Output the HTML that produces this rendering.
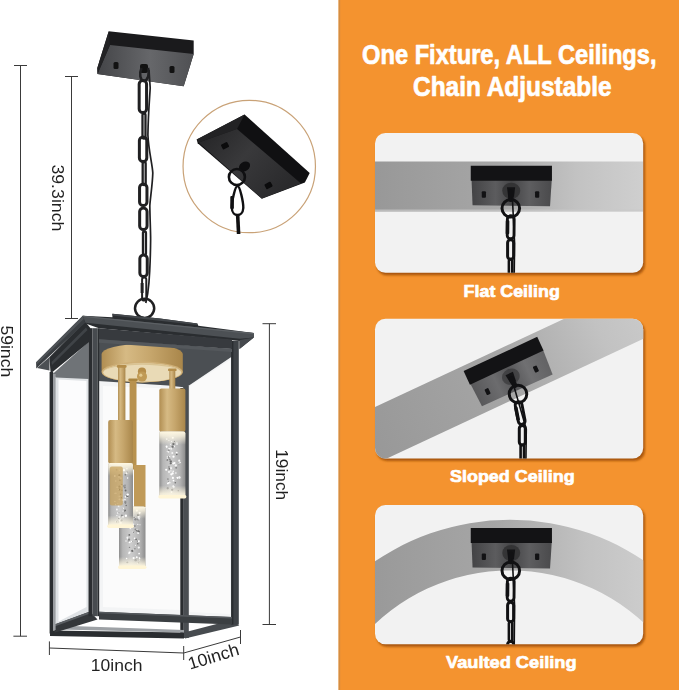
<!DOCTYPE html>
<html><head><meta charset="utf-8"><title>One Fixture, ALL Ceilings</title>
<style>
html,body{margin:0;padding:0;background:#fff;}
svg{display:block}
text{font-family:"Liberation Sans",sans-serif;}
.b{font-weight:bold;fill:#fff;stroke:#fff;stroke-width:0.7px;stroke-linejoin:round}
.d{fill:#1e1e1e;opacity:0.99}
</style></head><body>
<svg width="679" height="690" viewBox="0 0 679 690">
<defs>
<linearGradient id="band" x1="0" x2="1" y1="0" y2="0">
<stop offset="0" stop-color="#989898"/><stop offset="0.45" stop-color="#a6a6a6"/><stop offset="0.75" stop-color="#c2c2c2"/><stop offset="1" stop-color="#cfcfcf"/>
</linearGradient>
<linearGradient id="gold" x1="0" x2="1" y1="0" y2="0">
<stop offset="0" stop-color="#b18e52"/><stop offset="0.3" stop-color="#d6ba84"/><stop offset="0.6" stop-color="#c6a66c"/><stop offset="1" stop-color="#a9864a"/>
</linearGradient>
<linearGradient id="cry" x1="0" x2="1" y1="0" y2="0">
<stop offset="0" stop-color="#8e8e8e"/><stop offset="0.14" stop-color="#b6b6b6"/><stop offset="0.45" stop-color="#cdcdcd"/><stop offset="0.8" stop-color="#b2b2b2"/><stop offset="1" stop-color="#8c8c8c"/>
</linearGradient>
<linearGradient id="glow" x1="0" x2="0" y1="0" y2="1">
<stop offset="0" stop-color="#fff8e2" stop-opacity="1"/><stop offset="0.07" stop-color="#fff8e2" stop-opacity="0.75"/><stop offset="0.2" stop-color="#fff8e2" stop-opacity="0"/>
<stop offset="0.82" stop-color="#fff8e2" stop-opacity="0"/><stop offset="0.94" stop-color="#fff8e2" stop-opacity="0.8"/><stop offset="1" stop-color="#fff8e2" stop-opacity="1"/>
</linearGradient>
<linearGradient id="insf" x1="0" x2="1" y1="0" y2="0.6">
<stop offset="0" stop-color="#232325"/><stop offset="0.5" stop-color="#39393b"/><stop offset="1" stop-color="#2a2a2c"/>
</linearGradient>
<linearGradient id="canf" x1="0" x2="1" y1="0" y2="0">
<stop offset="0" stop-color="#444548"/><stop offset="0.55" stop-color="#66676a"/><stop offset="1" stop-color="#4f5053"/>
</linearGradient>
<linearGradient id="plf" x1="0" x2="1" y1="0" y2="0">
<stop offset="0" stop-color="#434345"/><stop offset="0.3" stop-color="#5c5c5e"/><stop offset="0.5" stop-color="#454547"/><stop offset="0.72" stop-color="#5e5e60"/><stop offset="1" stop-color="#4a4a4c"/>
</linearGradient>
<linearGradient id="plf2" x1="0" x2="1" y1="0" y2="0">
<stop offset="0" stop-color="#58585a"/><stop offset="0.3" stop-color="#6c6c6e"/><stop offset="0.5" stop-color="#565658"/><stop offset="0.72" stop-color="#707072"/><stop offset="1" stop-color="#626264"/>
</linearGradient>
<filter id="sh" x="-5%" y="-5%" width="110%" height="110%"><feGaussianBlur stdDeviation="0.8"/></filter>
<clipPath id="c1"><rect x="375" y="133" width="268.2" height="139.8" rx="10.5"/></clipPath>
<clipPath id="c2"><rect x="375" y="318.75" width="268.2" height="139.8" rx="10.5"/></clipPath>
<clipPath id="c3"><rect x="375" y="505" width="268.2" height="139.3" rx="10.5"/></clipPath>
</defs>
<rect width="679" height="690" fill="#fff"/>

<rect x="338.6" y="0" width="341" height="690" fill="#f4932f"/>
<rect x="338.6" y="0" width="1.6" height="690" fill="#d48d42"/>
<text class="b" x="509.3" y="64" font-size="27.5" text-anchor="middle" textLength="294.5" lengthAdjust="spacingAndGlyphs">One Fixture, ALL Ceilings,</text>
<text class="b" x="512.3" y="96" font-size="27.5" text-anchor="middle" textLength="198.5" lengthAdjust="spacingAndGlyphs">Chain Adjustable</text>
<rect x="376.6" y="135.2" width="268.4" height="140.1" rx="10.5" fill="#a9570a" filter="url(#sh)"/>
<rect x="375" y="133" width="268.2" height="139.8" rx="10.5" fill="#f2f2f2"/>
<g clip-path="url(#c1)"><rect x="375" y="161.5" width="268" height="50" fill="url(#band)"/><rect x="375" y="209.5" width="268" height="2" fill="#c9c9c9" opacity="0.7"/><g transform="translate(470.75 165.75) rotate(0)"><polygon points="0.8,14 81,14 79.3,40.6 1.8,39.6" fill="url(#plf)"/><ellipse cx="40.5" cy="25" rx="9" ry="8" fill="#2e2e30" opacity="0.8"/><polygon points="0,0 81.2,0 81.2,15 0,15" fill="#131315"/><rect x="11" y="25.5" width="4.2" height="6.4" rx="1" fill="#121214"/><rect x="64.3" y="25.5" width="4.2" height="6.4" rx="1" fill="#121214"/><path d="M36.2,21.5 L44.4,21.5 L43.3,31 L37.4,31 Z" fill="#131315"/></g><path d="M510.8,192 L510.8,199.2" stroke="#111113" stroke-width="5.4" stroke-linecap="round" fill="none"/><circle cx="510.8" cy="208.3" r="8.8" fill="none" stroke="#111113" stroke-width="3"/><path d="M512.3,196 L514.6,243.3 L514.2,276" stroke="#111113" stroke-width="1.6" fill="none"/><rect x="507.30" y="215.80" width="6.80" height="23.00" rx="3.40" fill="none" stroke="#111113" stroke-width="2.9" transform="rotate(0.520856374501929 510.70 227.30)"/><rect x="505.70000000000005" y="220.3" width="3.6" height="14" rx="1" fill="#111113" transform="rotate(0.5 510.70000000000005 227.3)"/><rect x="507.60" y="239.75" width="6.00" height="19.50" rx="3.00" fill="none" stroke="#111113" stroke-width="3.0" transform="rotate(0 510.60 249.50)"/><rect x="508.90" y="259.10" width="3.40" height="20.00" rx="1.70" fill="none" stroke="#111113" stroke-width="2.6" transform="rotate(0 510.60 269.10)"/></g>
<text class="b" x="511.7" y="296.5" font-size="17.2" text-anchor="middle" textLength="96.2" lengthAdjust="spacingAndGlyphs">Flat Ceiling</text>
<rect x="376.6" y="320.95" width="268.4" height="140.1" rx="10.5" fill="#a9570a" filter="url(#sh)"/>
<rect x="375" y="318.75" width="268.2" height="139.8" rx="10.5" fill="#f2f2f2"/>
<g clip-path="url(#c2)"><g transform="translate(375 407) rotate(-25)"><rect x="-20" y="0" width="340" height="51.7" fill="url(#band)"/></g><g transform="translate(463.6 371.1) rotate(-25)"><polygon points="0.8,14 81,14 79.3,40.6 1.8,39.6" fill="url(#plf2)"/><ellipse cx="40.5" cy="25" rx="9" ry="8" fill="#2e2e30" opacity="0.55"/><polygon points="0,0 81.2,0 81.2,15 0,15" fill="#131315"/><rect x="11" y="25.5" width="4.2" height="6.4" rx="1" fill="#121214"/><rect x="64.3" y="25.5" width="4.2" height="6.4" rx="1" fill="#121214"/><path d="M36.2,21.5 L44.4,21.5 L43.3,31 L37.4,31 Z" fill="#131315"/></g><path d="M511.4,378.8 L514.7,385.4" stroke="#111113" stroke-width="5.4" stroke-linecap="round" fill="none"/><circle cx="518" cy="394" r="8.8" fill="none" stroke="#111113" stroke-width="3"/><path d="M512.9,382.8 L526.3,429 L525.9,462" stroke="#111113" stroke-width="1.6" fill="none"/><rect x="516.75" y="401.50" width="6.80" height="23.00" rx="3.40" fill="none" stroke="#111113" stroke-width="2.9" transform="rotate(-11.059296367066288 520.15 413.00)"/><rect x="515.15" y="406.0" width="3.6" height="14" rx="1" fill="#111113" transform="rotate(-11.1 520.15 413.0)"/><rect x="519.30" y="425.45" width="6.00" height="19.50" rx="3.00" fill="none" stroke="#111113" stroke-width="3.0" transform="rotate(0 522.30 435.20)"/><rect x="520.60" y="444.80" width="3.40" height="20.00" rx="1.70" fill="none" stroke="#111113" stroke-width="2.6" transform="rotate(0 522.30 454.80)"/></g>
<text class="b" x="512.3" y="482" font-size="17.2" text-anchor="middle" textLength="124.6" lengthAdjust="spacingAndGlyphs">Sloped Ceiling</text>
<rect x="376.6" y="507.2" width="268.4" height="139.6" rx="10.5" fill="#a9570a" filter="url(#sh)"/>
<rect x="375" y="505" width="268.2" height="139.3" rx="10.5" fill="#f2f2f2"/>
<g clip-path="url(#c3)"><path d="M360,572.45 A240,240 0 0 1 660,572.45 L660,639.7 A197,197 0 0 0 360,639.7 Z" fill="url(#band)"/><g transform="translate(470.75 528) rotate(0)"><polygon points="0.8,14 81,14 79.3,40.6 1.8,39.6" fill="url(#plf)"/><ellipse cx="40.5" cy="25" rx="9" ry="8" fill="#2e2e30" opacity="0.8"/><polygon points="0,0 81.2,0 81.2,15 0,15" fill="#131315"/><rect x="11" y="25.5" width="4.2" height="6.4" rx="1" fill="#121214"/><rect x="64.3" y="25.5" width="4.2" height="6.4" rx="1" fill="#121214"/><path d="M36.2,21.5 L44.4,21.5 L43.3,31 L37.4,31 Z" fill="#131315"/></g><path d="M510.8,554.5 L510.8,561.6" stroke="#111113" stroke-width="5.4" stroke-linecap="round" fill="none"/><circle cx="510.8" cy="570.7" r="8.8" fill="none" stroke="#111113" stroke-width="3"/><path d="M512.3,558.5 L514.6,605.7 L514.2,648" stroke="#111113" stroke-width="1.6" fill="none"/><rect x="507.30" y="578.20" width="6.80" height="23.00" rx="3.40" fill="none" stroke="#111113" stroke-width="2.9" transform="rotate(0.520856374501929 510.70 589.70)"/><rect x="505.70000000000005" y="582.7" width="3.6" height="14" rx="1" fill="#111113" transform="rotate(0.5 510.70000000000005 589.7)"/><rect x="507.60" y="602.15" width="6.00" height="19.50" rx="3.00" fill="none" stroke="#111113" stroke-width="3.0" transform="rotate(0 510.60 611.90)"/><rect x="508.90" y="621.50" width="3.40" height="20.00" rx="1.70" fill="none" stroke="#111113" stroke-width="2.6" transform="rotate(0 510.60 631.50)"/><rect x="507.60" y="641.35" width="6.00" height="19.50" rx="3.00" fill="none" stroke="#111113" stroke-width="3.0" transform="rotate(0 510.60 651.10)"/></g>
<text class="b" x="511.3" y="667.9" font-size="17.2" text-anchor="middle" textLength="130.6" lengthAdjust="spacingAndGlyphs">Vaulted Ceiling</text>
<path d="M14,65.5 H27 M20.5,65.5 V636.2 M13.4,636.2 H27" stroke="#3a3a3a" stroke-width="1" fill="none"/>
<path d="M65,76.5 H78 M71.5,76.5 V318.5 M65,318.5 H78" stroke="#3a3a3a" stroke-width="1" fill="none"/>
<path d="M262.5,323.7 H276 M269.4,323.7 V624.5 M262.5,624.5 H276" stroke="#3a3a3a" stroke-width="1" fill="none"/>
<path d="M49.4,641.4 V655 M49.4,648 L183.7,653 M183.7,646 V660" stroke="#3a3a3a" stroke-width="1" fill="none"/>
<path d="M183.7,653 L240.5,637 M240.5,630 V644" stroke="#3a3a3a" stroke-width="1" fill="none"/>
<text class="d" font-size="17.4" transform="translate(51.7 164.4) rotate(90)" textLength="67" lengthAdjust="spacingAndGlyphs">39.3inch</text>
<text class="d" font-size="17.4" transform="translate(1.3 325.4) rotate(90)" textLength="51.8" lengthAdjust="spacingAndGlyphs">59inch</text>
<text class="d" font-size="17.4" transform="translate(275.9 449.2) rotate(90)" textLength="51" lengthAdjust="spacingAndGlyphs">19inch</text>
<text class="d" font-size="17.4" x="90.8" y="671" textLength="51.6" lengthAdjust="spacingAndGlyphs">10inch</text>
<text class="d" font-size="17.4" transform="translate(190 669.8) rotate(-17)" textLength="52.6" lengthAdjust="spacingAndGlyphs">10inch</text>
<circle cx="249.25" cy="166.5" r="66.2" fill="#fff" stroke="#c9a277" stroke-width="1.2"/>
<polygon points="196.7,139.5 244.6,114.6 309.7,173 304.9,182.5 261.8,198.8 197.7,143.3" fill="#101012"/>
<polygon points="196.7,139.5 244.6,114.6 237,129 198.6,142.4" fill="#222224"/>
<polygon points="198.6,142.4 237,129 301,183.5 261.8,198.4" fill="url(#insf)"/>
<rect x="221.5" y="143" width="7" height="5.5" rx="1" fill="#0b0b0c" transform="rotate(-28 225 145.7)"/>
<rect x="265" y="182.7" width="7" height="5.5" rx="1" fill="#0b0b0c" transform="rotate(-28 268.5 185.4)"/>
<ellipse cx="244.5" cy="166.5" rx="6" ry="4.6" fill="#0e0e10" transform="rotate(-35 244.5 166.5)"/>
<circle cx="236.9" cy="177" r="8" fill="none" stroke="#101012" stroke-width="2.6"/>
<path d="M237.5,186 C240,186 243.5,203 243.3,208 C243,213 240,215 237.5,215 C235,215 232,213 231.8,208 C231.5,203 235,186 237.5,186 Z" fill="none" stroke="#101012" stroke-width="2.4"/>
<rect x="230.3" y="196" width="3.6" height="13" rx="1" fill="#101012"/>
<path d="M237.6,214 L238.6,234" stroke="#101012" stroke-width="3.6" fill="none"/>
<polygon points="108.7,31.2 193.7,40.5 193.7,54 183.7,86.2 97.5,74 97.3,68" fill="#1a1a1c"/>
<polygon points="110,45 193.7,54 183.7,86.2 97.5,74" fill="url(#canf)"/>
<polygon points="108.7,31.2 110,45 97.5,74 97.3,68" fill="#232325"/>
<rect x="113.5" y="62" width="5" height="7" rx="1.5" fill="#121212"/>
<rect x="169.5" y="66" width="5" height="7" rx="1.5" fill="#121212"/>
<rect x="140" y="64" width="8" height="9" rx="2" fill="#121212"/>
<path d="M149,70 L150.2,88 C149.5,100 148.3,112 147.9,135 C148.5,150 152.5,165 152.8,173 C152.5,185 150,200 149.8,206 C150,220 150.8,235 150.6,241 C150.5,255 150,265 149.7,271 C149.3,280 148.5,288 147.7,293.6 L145.8,303" stroke="#202022" stroke-width="1.7" fill="none"/>
<path d="M141.5,68 C139,74 140,80 144,81 C148,80 150,74 148,68" stroke="#202022" stroke-width="2.6" fill="none"/>
<rect x="139.17" y="80.40" width="7.40" height="32.20" rx="3.70" fill="none" stroke="#202022" stroke-width="3.0" transform="rotate(0 142.87 96.50)"/>
<rect x="142.49" y="113.50" width="3.00" height="25.00" rx="1.50" fill="none" stroke="#202022" stroke-width="2.3" transform="rotate(0 143.99 126.00)"/>
<rect x="139.38" y="136.90" width="7.40" height="24.70" rx="3.70" fill="none" stroke="#202022" stroke-width="3.0" transform="rotate(0 143.08 149.25)"/>
<rect x="142.68" y="162.00" width="3.00" height="23.00" rx="1.50" fill="none" stroke="#202022" stroke-width="2.3" transform="rotate(0 144.18 173.50)"/>
<rect x="139.56" y="183.90" width="7.40" height="21.70" rx="3.70" fill="none" stroke="#202022" stroke-width="3.0" transform="rotate(0 143.26 194.75)"/>
<rect x="139.66" y="207.90" width="7.40" height="21.70" rx="3.70" fill="none" stroke="#202022" stroke-width="3.0" transform="rotate(0 143.36 218.75)"/>
<rect x="142.96" y="231.50" width="3.00" height="23.50" rx="1.50" fill="none" stroke="#202022" stroke-width="2.3" transform="rotate(0 144.46 243.25)"/>
<rect x="139.85" y="254.90" width="7.40" height="21.70" rx="3.70" fill="none" stroke="#202022" stroke-width="3.0" transform="rotate(0 143.55 265.75)"/>
<rect x="142.10" y="277.50" width="4.20" height="23.00" rx="2.10" fill="none" stroke="#202022" stroke-width="2.0" transform="rotate(0 144.20 289.00)"/>
<rect x="140.6" y="283" width="3" height="10" fill="#202022"/>
<circle cx="144.6" cy="308.3" r="9.6" fill="none" stroke="#202022" stroke-width="2.5"/>
<polygon points="52.7,374 88.5,342 88.5,613 52.7,630" fill="#dfe2e5"/>
<polygon points="52.7,374 88.5,342 88.5,379 56,377.5" fill="#6f7377"/>
<polygon points="58.5,379.5 86.5,381 86.5,607 58.5,621.5" fill="#fcfcfd"/>
<polygon points="98,339 232,349 232,619 98,613" fill="#f3f4f5"/>
<polygon points="103,386 181,389 181,610 103,607" fill="#fbfbfb"/>
<polygon points="190,386 230,360 230,614 190,612" fill="#fafafa"/>
<polygon points="98,338 232,349 232,356.5 186,387.5 168,385.5 98,381" fill="#4b4f53"/>
<rect x="183.2" y="386" width="5.6" height="252" fill="#4a4e52"/>
<rect x="180.3" y="388" width="3" height="250" fill="#2a2d30"/>
<polygon points="50,630.5 184,632.5 184,638.5 50,636" fill="#2a2d30"/>
<polygon points="72,626 184,630 184,632.5 60,629.5" fill="#9da1a5"/>
<polygon points="184,632.5 232,620 239.3,625.5 185,638.5" fill="#474b4f"/>
<polygon points="54.5,624.6 90,611.5 97.5,619.4 54.5,632.8" fill="#34373a"/>
<polygon points="54.5,624.6 90,611.5 91.5,613 54.5,626.6" fill="#5a5e62"/>
<path d="M101.6,354 A40.6,10 0 0 1 182.8,354 L182.8,372 A40.6,10.4 0 0 1 101.6,372 Z" fill="url(#gold)"/>
<ellipse cx="142.2" cy="372" rx="40.6" ry="10.4" fill="#cfb078"/>
<ellipse cx="142.2" cy="372.4" rx="39" ry="9.2" fill="#e9dab6"/>
<path d="M103.2,372.4 A39,9.2 0 0 1 181.2,372.4 A39,7.6 0 0 0 103.2,372.4 Z" fill="#d9c393"/>
<rect x="129.6" y="379.5" width="6.9" height="90" fill="#b8924f"/>
<rect x="128.3" y="378.5" width="9.5" height="2.5" rx="1" fill="#a9843f"/>
<rect x="118" y="366.5" width="7.4" height="56" fill="url(#gold)"/>
<rect x="116.8" y="365" width="9.8" height="2.8" rx="1.2" fill="#b48d4a"/>
<rect x="169.3" y="370" width="6" height="20" fill="url(#gold)"/>
<rect x="168" y="368.5" width="8.6" height="2.6" rx="1.2" fill="#b48d4a"/>
<circle cx="142" cy="371.6" r="4.1" fill="#b48c48"/><circle cx="142" cy="376.6" r="5" fill="#c09a55"/><circle cx="140.8" cy="375.2" r="1.6" fill="#e2c98e"/>
<rect x="134" y="465" width="11.5" height="42" fill="#c09a58"/>
<rect x="119" y="506.5" width="26.5" height="61.5" rx="2" fill="url(#cry)"/><circle cx="129.1" cy="539.6" r="1.14" fill="#8a8a8a"/><circle cx="132.5" cy="541.6" r="0.51" fill="#6f6f6f"/><circle cx="137.8" cy="524.4" r="0.63" fill="#f4f4f4"/><circle cx="136.1" cy="539.4" r="0.83" fill="#6f6f6f"/><circle cx="134.9" cy="518.6" r="1.11" fill="#f4f4f4"/><circle cx="133.3" cy="550.2" r="0.61" fill="#ffffff"/><circle cx="139.6" cy="512.8" r="1.08" fill="#ffffff"/><circle cx="129.6" cy="542.3" r="1.00" fill="#ffffff"/><circle cx="139.1" cy="531.6" r="0.81" fill="#6f6f6f"/><circle cx="139.3" cy="557.5" r="0.53" fill="#ffffff"/><circle cx="132.8" cy="524.3" r="1.05" fill="#ffffff"/><circle cx="138.1" cy="533.0" r="0.90" fill="#ffffff"/><circle cx="133.4" cy="532.3" r="1.13" fill="#f4f4f4"/><circle cx="135.6" cy="560.2" r="1.19" fill="#8a8a8a"/><circle cx="135.4" cy="519.2" r="1.18" fill="#8a8a8a"/><circle cx="138.8" cy="540.9" r="0.94" fill="#f4f4f4"/><circle cx="140.0" cy="524.8" r="0.54" fill="#ffffff"/><circle cx="138.1" cy="563.5" r="0.74" fill="#ffffff"/><circle cx="126.6" cy="558.5" r="0.71" fill="#ffffff"/><circle cx="136.8" cy="557.2" r="0.92" fill="#ffffff"/><circle cx="136.7" cy="530.7" r="0.73" fill="#6f6f6f"/><circle cx="138.5" cy="563.0" r="0.67" fill="#6f6f6f"/><circle cx="126.1" cy="510.9" r="0.92" fill="#ffffff"/><circle cx="126.1" cy="521.1" r="0.70" fill="#ffffff"/><circle cx="129.5" cy="547.4" r="0.72" fill="#8a8a8a"/><circle cx="139.6" cy="558.5" r="0.76" fill="#ffffff"/><circle cx="138.3" cy="531.2" r="0.98" fill="#6f6f6f"/><circle cx="127.1" cy="562.5" r="0.69" fill="#6f6f6f"/><circle cx="134.9" cy="548.8" r="0.81" fill="#8a8a8a"/><circle cx="129.4" cy="526.7" r="0.51" fill="#8a8a8a"/><circle cx="131.7" cy="541.5" r="0.76" fill="#ffffff"/><circle cx="134.2" cy="517.6" r="0.83" fill="#8a8a8a"/><circle cx="135.5" cy="529.4" r="1.02" fill="#8a8a8a"/><circle cx="125.9" cy="513.7" r="1.17" fill="#ffffff"/><circle cx="129.3" cy="534.9" r="0.92" fill="#6f6f6f"/><circle cx="128.2" cy="520.4" r="1.09" fill="#8a8a8a"/><circle cx="129.5" cy="552.6" r="1.04" fill="#ffffff"/><circle cx="126.0" cy="541.0" r="0.72" fill="#f4f4f4"/><circle cx="128.9" cy="553.5" r="0.73" fill="#f4f4f4"/><circle cx="135.5" cy="545.3" r="0.57" fill="#ffffff"/><circle cx="130.3" cy="528.4" r="0.81" fill="#f4f4f4"/><circle cx="138.1" cy="519.6" r="1.02" fill="#8a8a8a"/><circle cx="128.8" cy="540.9" r="0.66" fill="#8a8a8a"/><circle cx="127.4" cy="538.8" r="0.72" fill="#f4f4f4"/><circle cx="137.8" cy="541.3" r="0.74" fill="#8a8a8a"/><circle cx="137.7" cy="515.1" r="0.74" fill="#6f6f6f"/><circle cx="127.5" cy="526.1" r="0.83" fill="#8a8a8a"/><circle cx="134.9" cy="526.0" r="0.79" fill="#6f6f6f"/><circle cx="139.0" cy="518.8" r="0.83" fill="#ffffff"/><circle cx="137.8" cy="543.8" r="0.80" fill="#6f6f6f"/><circle cx="139.5" cy="560.1" r="0.52" fill="#f4f4f4"/><circle cx="132.3" cy="550.8" r="1.17" fill="#6f6f6f"/><circle cx="133.6" cy="558.1" r="1.10" fill="#ffffff"/><circle cx="139.8" cy="516.9" r="0.53" fill="#f4f4f4"/><circle cx="138.8" cy="547.6" r="1.13" fill="#f4f4f4"/><circle cx="138.7" cy="541.4" r="0.84" fill="#ffffff"/><circle cx="127.4" cy="537.4" r="0.96" fill="#f4f4f4"/><circle cx="133.3" cy="532.6" r="0.58" fill="#6f6f6f"/><circle cx="127.5" cy="562.5" r="0.83" fill="#6f6f6f"/><circle cx="137.0" cy="529.3" r="0.59" fill="#f4f4f4"/><circle cx="138.6" cy="516.9" r="1.05" fill="#f4f4f4"/><circle cx="139.1" cy="553.6" r="0.84" fill="#ffffff"/><circle cx="133.9" cy="531.9" r="0.67" fill="#8a8a8a"/><circle cx="134.6" cy="538.3" r="0.83" fill="#ffffff"/><circle cx="136.9" cy="510.6" r="1.04" fill="#ffffff"/><circle cx="126.3" cy="513.2" r="1.18" fill="#ffffff"/><circle cx="138.1" cy="515.1" r="0.84" fill="#6f6f6f"/><rect x="119" y="506.5" width="26.5" height="61.5" rx="2" fill="url(#glow)"/><rect x="118" y="565.5" width="28.5" height="3.5" rx="1.7" fill="#fff5d6"/>
<rect x="108.2" y="420" width="24.8" height="43.5" rx="2" fill="url(#gold)"/>
<rect x="108.2" y="463" width="24.8" height="64" rx="2" fill="url(#cry)"/><circle cx="122.9" cy="508.5" r="0.52" fill="#6f6f6f"/><circle cx="120.8" cy="519.8" r="1.13" fill="#ffffff"/><circle cx="115.9" cy="493.3" r="0.77" fill="#f4f4f4"/><circle cx="115.8" cy="481.0" r="0.79" fill="#f4f4f4"/><circle cx="116.9" cy="515.6" r="0.61" fill="#ffffff"/><circle cx="125.3" cy="474.8" r="0.81" fill="#6f6f6f"/><circle cx="116.2" cy="521.5" r="0.65" fill="#ffffff"/><circle cx="117.3" cy="522.0" r="0.70" fill="#f4f4f4"/><circle cx="127.5" cy="497.2" r="0.63" fill="#f4f4f4"/><circle cx="127.6" cy="478.0" r="0.71" fill="#ffffff"/><circle cx="119.3" cy="476.3" r="0.68" fill="#f4f4f4"/><circle cx="118.9" cy="512.8" r="0.50" fill="#6f6f6f"/><circle cx="123.6" cy="485.9" r="0.75" fill="#8a8a8a"/><circle cx="118.6" cy="506.0" r="0.84" fill="#f4f4f4"/><circle cx="124.0" cy="470.2" r="1.16" fill="#ffffff"/><circle cx="119.3" cy="489.6" r="1.05" fill="#6f6f6f"/><circle cx="119.4" cy="499.4" r="0.82" fill="#ffffff"/><circle cx="124.1" cy="501.9" r="0.58" fill="#f4f4f4"/><circle cx="117.8" cy="512.9" r="0.74" fill="#ffffff"/><circle cx="119.2" cy="496.4" r="0.58" fill="#ffffff"/><circle cx="124.6" cy="511.6" r="0.53" fill="#8a8a8a"/><circle cx="127.3" cy="472.1" r="0.86" fill="#8a8a8a"/><circle cx="119.3" cy="475.3" r="1.15" fill="#8a8a8a"/><circle cx="121.8" cy="484.5" r="0.71" fill="#8a8a8a"/><circle cx="125.3" cy="502.1" r="1.20" fill="#8a8a8a"/><circle cx="116.6" cy="469.7" r="0.87" fill="#6f6f6f"/><circle cx="119.9" cy="480.3" r="0.74" fill="#6f6f6f"/><circle cx="117.8" cy="503.5" r="0.54" fill="#f4f4f4"/><circle cx="126.9" cy="468.8" r="0.73" fill="#ffffff"/><circle cx="117.2" cy="522.0" r="1.16" fill="#6f6f6f"/><circle cx="123.0" cy="511.1" r="0.62" fill="#ffffff"/><circle cx="119.5" cy="470.3" r="0.71" fill="#ffffff"/><circle cx="120.6" cy="523.0" r="1.18" fill="#f4f4f4"/><circle cx="120.6" cy="494.3" r="0.84" fill="#8a8a8a"/><circle cx="118.4" cy="489.6" r="0.58" fill="#f4f4f4"/><circle cx="125.6" cy="496.8" r="0.94" fill="#f4f4f4"/><circle cx="121.2" cy="486.0" r="0.84" fill="#ffffff"/><circle cx="121.4" cy="497.7" r="0.75" fill="#6f6f6f"/><circle cx="125.1" cy="510.4" r="0.96" fill="#6f6f6f"/><circle cx="124.8" cy="487.4" r="1.08" fill="#8a8a8a"/><circle cx="118.0" cy="521.9" r="1.17" fill="#8a8a8a"/><circle cx="119.0" cy="477.0" r="0.83" fill="#ffffff"/><circle cx="125.0" cy="485.3" r="0.82" fill="#8a8a8a"/><circle cx="125.5" cy="503.3" r="0.74" fill="#8a8a8a"/><circle cx="123.2" cy="508.3" r="0.75" fill="#ffffff"/><circle cx="125.9" cy="515.7" r="1.18" fill="#ffffff"/><circle cx="127.4" cy="496.0" r="1.19" fill="#6f6f6f"/><circle cx="117.1" cy="487.3" r="0.70" fill="#ffffff"/><circle cx="115.5" cy="504.6" r="0.62" fill="#ffffff"/><circle cx="125.0" cy="499.5" r="0.71" fill="#ffffff"/><circle cx="121.9" cy="515.6" r="1.00" fill="#8a8a8a"/><circle cx="114.8" cy="476.0" r="0.94" fill="#ffffff"/><circle cx="116.9" cy="509.5" r="0.94" fill="#f4f4f4"/><circle cx="115.0" cy="493.4" r="0.62" fill="#f4f4f4"/><circle cx="126.6" cy="473.2" r="0.84" fill="#f4f4f4"/><circle cx="121.9" cy="490.3" r="0.77" fill="#8a8a8a"/><circle cx="122.7" cy="500.0" r="1.00" fill="#f4f4f4"/><circle cx="119.5" cy="486.6" r="1.10" fill="#8a8a8a"/><circle cx="126.2" cy="505.6" r="0.76" fill="#6f6f6f"/><circle cx="114.9" cy="501.4" r="0.71" fill="#ffffff"/><circle cx="121.4" cy="520.3" r="1.17" fill="#8a8a8a"/><circle cx="125.6" cy="490.5" r="0.95" fill="#6f6f6f"/><circle cx="119.4" cy="475.0" r="0.77" fill="#6f6f6f"/><circle cx="120.9" cy="478.2" r="0.93" fill="#f4f4f4"/><circle cx="119.2" cy="517.0" r="0.77" fill="#ffffff"/><circle cx="118.8" cy="518.3" r="0.60" fill="#6f6f6f"/><circle cx="123.0" cy="516.9" r="0.80" fill="#ffffff"/><circle cx="127.7" cy="494.6" r="1.18" fill="#ffffff"/><circle cx="119.6" cy="520.8" r="0.92" fill="#f4f4f4"/><circle cx="117.9" cy="521.9" r="0.68" fill="#ffffff"/><rect x="108.2" y="463" width="24.8" height="64" rx="2" fill="url(#glow)"/><rect x="107.2" y="524.5" width="26.8" height="3.5" rx="1.7" fill="#fff5d6"/>
<rect x="109.8" y="466.5" width="13" height="39" rx="2" fill="#c89f55" opacity="0.7"/>
<rect x="159.3" y="388.4" width="26.1" height="43.5" rx="2" fill="url(#gold)"/>
<rect x="159.3" y="431.5" width="26.1" height="66" rx="2" fill="url(#cry)"/><circle cx="170.5" cy="444.2" r="0.55" fill="#ffffff"/><circle cx="173.5" cy="456.7" r="1.14" fill="#ffffff"/><circle cx="168.9" cy="440.5" r="0.55" fill="#ffffff"/><circle cx="167.1" cy="460.1" r="0.59" fill="#6f6f6f"/><circle cx="169.0" cy="471.9" r="0.90" fill="#ffffff"/><circle cx="171.5" cy="492.1" r="0.89" fill="#ffffff"/><circle cx="167.7" cy="459.8" r="0.58" fill="#6f6f6f"/><circle cx="170.3" cy="482.8" r="0.57" fill="#f4f4f4"/><circle cx="174.0" cy="446.4" r="0.88" fill="#ffffff"/><circle cx="166.7" cy="439.0" r="0.85" fill="#f4f4f4"/><circle cx="173.5" cy="480.6" r="0.91" fill="#ffffff"/><circle cx="172.3" cy="452.9" r="0.99" fill="#f4f4f4"/><circle cx="169.3" cy="468.8" r="0.85" fill="#6f6f6f"/><circle cx="170.8" cy="461.5" r="1.19" fill="#6f6f6f"/><circle cx="167.5" cy="459.8" r="0.61" fill="#8a8a8a"/><circle cx="172.8" cy="437.8" r="1.04" fill="#ffffff"/><circle cx="174.1" cy="486.3" r="0.74" fill="#8a8a8a"/><circle cx="170.9" cy="464.3" r="0.55" fill="#ffffff"/><circle cx="167.2" cy="451.2" r="0.54" fill="#ffffff"/><circle cx="175.9" cy="473.0" r="0.70" fill="#ffffff"/><circle cx="171.4" cy="474.3" r="1.16" fill="#ffffff"/><circle cx="170.9" cy="470.9" r="0.54" fill="#ffffff"/><circle cx="176.9" cy="443.0" r="0.78" fill="#f4f4f4"/><circle cx="179.0" cy="464.3" r="0.81" fill="#f4f4f4"/><circle cx="173.7" cy="486.7" r="1.10" fill="#ffffff"/><circle cx="169.8" cy="459.6" r="0.98" fill="#8a8a8a"/><circle cx="171.3" cy="448.9" r="0.62" fill="#ffffff"/><circle cx="169.2" cy="449.0" r="1.08" fill="#ffffff"/><circle cx="168.4" cy="451.9" r="0.79" fill="#f4f4f4"/><circle cx="171.1" cy="468.3" r="0.98" fill="#f4f4f4"/><circle cx="173.2" cy="471.3" r="0.82" fill="#ffffff"/><circle cx="178.3" cy="490.7" r="0.77" fill="#6f6f6f"/><circle cx="171.6" cy="441.5" r="0.54" fill="#ffffff"/><circle cx="166.8" cy="447.6" r="0.58" fill="#f4f4f4"/><circle cx="174.4" cy="441.4" r="0.61" fill="#6f6f6f"/><circle cx="167.3" cy="456.6" r="0.55" fill="#ffffff"/><circle cx="168.8" cy="457.3" r="1.17" fill="#8a8a8a"/><circle cx="174.5" cy="463.0" r="1.09" fill="#ffffff"/><circle cx="180.1" cy="462.5" r="0.72" fill="#ffffff"/><circle cx="167.9" cy="479.0" r="0.84" fill="#8a8a8a"/><circle cx="175.8" cy="465.4" r="1.17" fill="#f4f4f4"/><circle cx="173.4" cy="444.0" r="1.14" fill="#6f6f6f"/><circle cx="176.7" cy="452.8" r="0.99" fill="#ffffff"/><circle cx="169.6" cy="456.8" r="0.75" fill="#f4f4f4"/><circle cx="169.0" cy="466.9" r="0.73" fill="#6f6f6f"/><circle cx="169.0" cy="482.6" r="1.06" fill="#f4f4f4"/><circle cx="177.6" cy="478.4" r="0.64" fill="#f4f4f4"/><circle cx="172.9" cy="477.9" r="1.05" fill="#ffffff"/><circle cx="172.6" cy="446.7" r="1.17" fill="#6f6f6f"/><circle cx="172.2" cy="489.8" r="1.17" fill="#8a8a8a"/><circle cx="171.1" cy="448.3" r="0.83" fill="#f4f4f4"/><circle cx="170.7" cy="463.5" r="1.09" fill="#6f6f6f"/><circle cx="172.7" cy="473.4" r="1.08" fill="#ffffff"/><circle cx="167.5" cy="458.0" r="0.83" fill="#f4f4f4"/><circle cx="168.4" cy="481.3" r="0.56" fill="#8a8a8a"/><circle cx="179.4" cy="477.4" r="0.78" fill="#ffffff"/><circle cx="179.4" cy="477.5" r="1.20" fill="#f4f4f4"/><circle cx="166.2" cy="469.8" r="1.06" fill="#ffffff"/><circle cx="167.9" cy="483.4" r="0.96" fill="#ffffff"/><circle cx="170.9" cy="467.3" r="0.51" fill="#f4f4f4"/><circle cx="177.3" cy="477.6" r="0.87" fill="#ffffff"/><circle cx="179.2" cy="460.7" r="1.08" fill="#f4f4f4"/><circle cx="168.9" cy="450.1" r="0.85" fill="#8a8a8a"/><circle cx="176.8" cy="454.4" r="0.79" fill="#6f6f6f"/><circle cx="167.7" cy="488.3" r="1.13" fill="#8a8a8a"/><circle cx="175.3" cy="482.8" r="0.79" fill="#6f6f6f"/><circle cx="179.0" cy="464.6" r="0.61" fill="#6f6f6f"/><circle cx="173.2" cy="486.1" r="0.93" fill="#f4f4f4"/><circle cx="177.0" cy="444.2" r="0.83" fill="#f4f4f4"/><circle cx="176.2" cy="467.8" r="0.98" fill="#8a8a8a"/><circle cx="173.4" cy="463.5" r="1.12" fill="#ffffff"/><circle cx="166.6" cy="446.6" r="1.04" fill="#ffffff"/><rect x="159.3" y="431.5" width="26.1" height="66" rx="2" fill="url(#glow)"/><rect x="158.3" y="495.0" width="28.1" height="3.5" rx="1.7" fill="#fff5d6"/>
<polygon points="37,368 49.5,370.5 49.5,357" fill="#4b4f53"/>
<polygon points="49.3,357.3 85,321.5 90.3,328 90.3,341 50.7,373.4" fill="#2a2d30"/>
<polygon points="51.5,362 86,327.5 87.5,330 52,365" fill="#3f4347"/>
<polygon points="36.2,362.2 82.8,315.8 86,322 36.2,368.4" fill="#3a3e42"/>
<polygon points="36.2,362.2 82.8,315.8 84.2,318.6 36.2,365" fill="#4f5357"/>
<polygon points="82.8,315.8 112.4,317.2 112.4,313.8 160,318.6 197.3,323.4 198.3,325.8 253.8,333 253.8,337.4 239.5,349 239.5,341 99,328.2 85.5,323.4" fill="#2a2d30"/>
<polygon points="82.8,315.8 253.8,333 253.8,337.4 240,338.8 85.5,322.8" fill="#4c5054"/>
<polygon points="82.8,315.8 253.8,333 253.8,334.2 83.3,317.1" fill="#5c6064"/>
<polygon points="112.4,313.8 160,318.6 197.3,323.4 197.5,325 112.4,315.6" fill="#43474b"/>
<polygon points="239.5,340 253.8,337.4 239.5,349" fill="#45494d"/>
<rect x="49.6" y="372" width="3.6" height="261.5" fill="#2a2d30"/>
<rect x="53" y="374" width="2.6" height="256" fill="#9a9da1"/>
<rect x="88.5" y="328.2" width="4" height="288" fill="#2a2d30"/><rect x="92.5" y="328.2" width="5.3" height="288" fill="#474b4f"/><rect x="97.8" y="328.2" width="1.4" height="288" fill="#2a2d30"/>
<rect x="231.2" y="341" width="7.6" height="283.6" fill="#3e4246"/><rect x="231.2" y="341" width="2.2" height="283.6" fill="#2a2d30"/>
<polygon points="99,328.2 232,339.5 232,349 99,339.3" fill="#373a3e"/>
<polygon points="99,339.3 232,349 232,352 99,342.7" fill="#54585c"/>
<polygon points="99,611.8 232,617 232,624.6 99,619.5" fill="#3b3f42"/>
<polygon points="99,611.8 232,617 232,618.5 99,613.3" fill="#565a5e"/>
</svg></body></html>
